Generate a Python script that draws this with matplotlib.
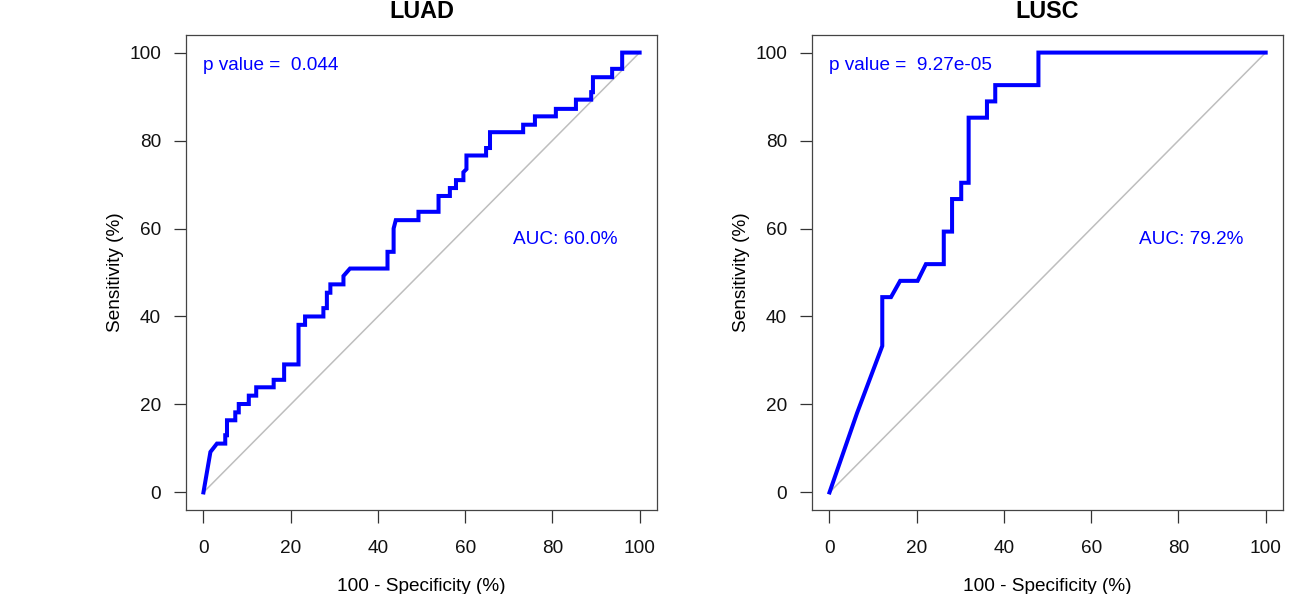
"""ROC-кривые LUAD / LUSC (в стиле pROC)."""

import matplotlib
matplotlib.use('Agg')
import matplotlib.pyplot as plt

plt.rcParams['font.family'] = ['Liberation Sans', 'DejaVu Sans']

# LUAD: точки ROC-кривой (100 - specificity, sensitivity), %
luad_fpr = [0, 1.6, 3.1, 5.0, 5.0, 5.4, 5.4, 7.3, 7.3, 8.1, 8.1, 10.4, 10.4,
            12.1, 12.1, 16.1, 16.1, 18.5, 18.5, 21.8, 21.8, 23.3, 23.3, 27.5,
            27.5, 28.3, 28.3, 29.1, 29.1, 32.1, 32.1, 33.6, 42.2, 42.2, 43.6,
            43.6, 44.1, 49.3, 49.3, 53.9, 53.9, 56.5, 56.5, 57.9, 57.9, 59.6,
            59.6, 60.3, 60.3, 64.8, 64.8, 65.7, 65.7, 73.3, 73.3, 76.0, 76.0,
            80.8, 80.8, 85.4, 85.4, 88.9, 88.9, 89.3, 89.3, 93.7, 93.7, 96.0,
            96.0, 100]
luad_tpr = [0, 9.2, 11.1, 11.1, 13.0, 13.0, 16.4, 16.4, 18.2, 18.2, 20.1, 20.1,
            22.0, 22.0, 23.9, 23.9, 25.6, 25.6, 29.1, 29.1, 38.1, 38.1, 40.0,
            40.0, 41.9, 41.9, 45.4, 45.4, 47.3, 47.3, 49.2, 50.9, 50.9, 54.7,
            54.7, 60.0, 61.9, 61.9, 63.8, 63.8, 67.4, 67.4, 69.2, 69.2, 71.0,
            71.0, 72.8, 73.5, 76.6, 76.6, 78.3, 78.3, 81.9, 81.9, 83.6, 83.6,
            85.5, 85.5, 87.2, 87.2, 89.3, 89.3, 91.0, 91.0, 94.4, 94.4, 96.3,
            96.3, 100, 100]

# LUSC
lusc_fpr = [0, 6.3, 12.1, 12.1, 14.1, 16.2, 20.2, 22.1, 26.2, 26.2, 28.1, 28.1,
            30.2, 30.2, 31.9, 31.9, 36.1, 36.1, 38.0, 38.0, 47.9, 47.9, 100]
lusc_tpr = [0, 18.0, 33.3, 44.4, 44.4, 48.1, 48.1, 51.9, 51.9, 59.3, 59.3, 66.7,
            66.7, 70.4, 70.4, 85.2, 85.2, 88.9, 88.9, 92.6, 92.6, 100, 100]

titles = ['LUAD', 'LUSC']
p_values = ['0.044', '9.27e-05']
aucs = [60.0, 79.2]
ticks = [0, 20, 40, 60, 80, 100]

fig = plt.figure(figsize=(12.97, 5.94), dpi=100)
lefts = [0.1434, 0.6261]
curves = [(luad_fpr, luad_tpr), (lusc_fpr, lusc_tpr)]
fs = 13.7

for left, (fpr, tpr), title, pv, auc in zip(lefts, curves, titles, p_values, aucs):
    ax = fig.add_axes([left, 0.1414, 0.3632, 0.7997])
    ax.plot([0, 100], [0, 100], color='#bebebe', lw=1.1)
    ax.plot(fpr, tpr, color='#0000ff', lw=2.9, solid_joinstyle='miter')
    ax.set_xlim(-4, 104)
    ax.set_ylim(-4, 104)
    ax.set_xticks(ticks)
    ax.set_yticks(ticks)
    ax.tick_params(direction='out', length=9, width=0.9, labelsize=fs,
                   color='#333333', labelcolor='#111111')
    ax.tick_params(axis='x', pad=12.5)
    ax.tick_params(axis='y', pad=9)
    for s in ax.spines.values():
        s.set_color('#444444')
        s.set_linewidth(0.9)
    ax.set_xlabel('100 - Specificity (%)', fontsize=fs, labelpad=15)
    ax.set_ylabel('Sensitivity (%)', fontsize=fs, labelpad=4)
    ax.set_title(title, fontsize=16.8, fontweight='bold', pad=12)
    ax.text(0, 96.0, f'p value =  {pv}', color='#0000ff', fontsize=fs,
            ha='left', va='baseline')
    ax.text(83, 56.4, f'AUC: {auc:.1f}%', color='#0000ff', fontsize=fs,
            ha='center', va='baseline')

fig.savefig('out.png', dpi=100)
